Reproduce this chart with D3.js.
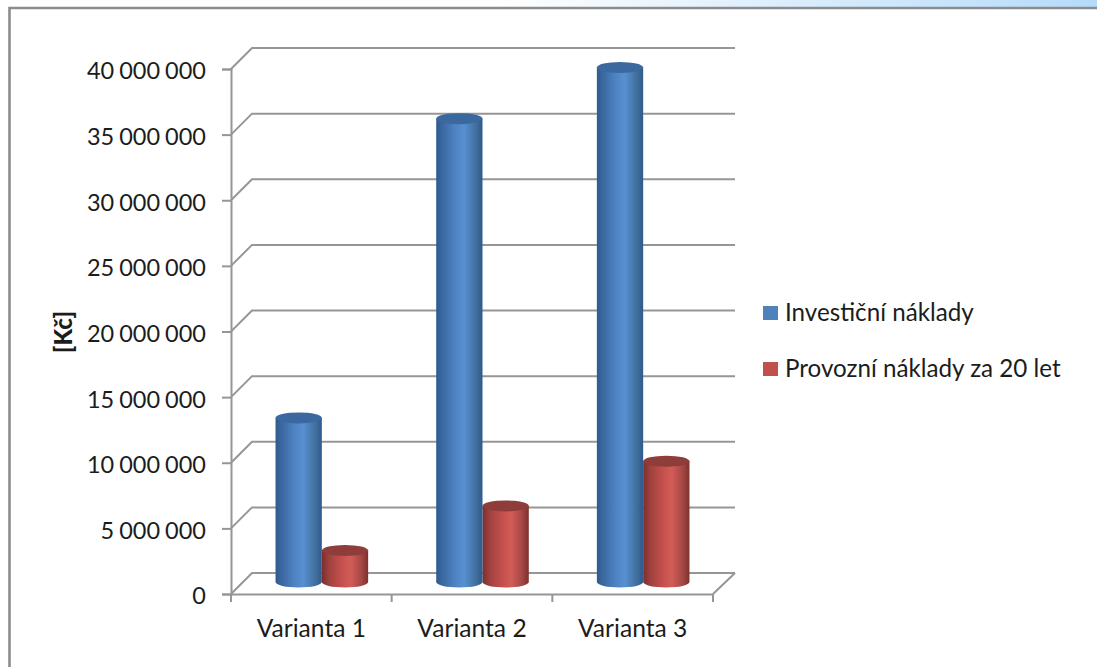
<!DOCTYPE html>
<html>
<head>
<meta charset="utf-8">
<script src="https://cdn.jsdelivr.net/npm/d3@7"></script>
<style>
html,body{margin:0;padding:0;background:#fff;overflow:hidden}
svg{display:block}
text{font-family:Lato,"Open Sans",sans-serif;fill:#1c1c1c}
</style>
</head>
<body>
<svg id="chart" width="1097" height="667"></svg>
<script>
// Costs per variant, in CZK
const categories = ["Varianta 1", "Varianta 2", "Varianta 3"];
const seriesNames = ["Investiční náklady", "Provozní náklady za 20 let"];
const investicni = [12500000, 35300000, 39200000];
const provozni = [2400000, 5800000, 9200000];
const yTicks = [0, 5000000, 10000000, 15000000, 20000000, 25000000, 30000000, 35000000, 40000000];
const seriesColors = ["#4f81bd", "#c0504d"];
const capColors = ["#3b689f", "#8f3d3a"];
const axisTitle = "[Kč]";

const svg = d3.select("#chart");
const W = 1097, H = 667;
const grey = "#969696";

// Chart geometry: front plane plus the oblique shift to the back wall
const x0 = 231, x1 = 713, yBase = 594, yTop = 69;
const depthX = 21, depthY = 21;
const y = d3.scaleLinear().domain([0, 40000000]).range([yBase, yTop]);
const x = d3.scaleBand().domain(categories).range([x0, x1]);
const barW = 46.3, rx = barW / 2, ry = 5.5;
const floorShiftX = 10.5, floorShiftY = 12;

const defs = svg.append("defs");

// Strip above the frame
const strip = defs.append("linearGradient").attr("id", "strip");
strip.append("stop").attr("offset", 0.45).attr("stop-color", "#ffffff");
strip.append("stop").attr("offset", 1).attr("stop-color", "#b5dbfa");
svg.append("rect").attr("width", W).attr("height", 8).attr("fill", "url(#strip)");

// Frame lines on the top and left
svg.append("path")
  .attr("d", `M9.5,${H} V8 H${W}`)
  .attr("fill", "none").attr("stroke", "#8c8c8c").attr("stroke-width", 2.6);

// Horizontal shading that gives the bars their round look
const stops = [
  [["0", "#2f5a8e"], ["0.16", "#3c6ba4"], ["0.42", "#4f84c4"], ["0.6", "#5790d2"], ["0.85", "#42719f"], ["1", "#2f5a8c"]],
  [["0", "#7a2f2d"], ["0.16", "#a0423f"], ["0.42", "#c44f4c"], ["0.62", "#d25c58"], ["0.85", "#a64744"], ["1", "#7e302e"]]
];
stops.forEach((list, i) => {
  const g = defs.append("linearGradient").attr("id", "cyl" + i);
  list.forEach(s => g.append("stop").attr("offset", s[0]).attr("stop-color", s[1]));
});

// Back wall gridlines with their diagonal run to the value axis
const grid = svg.append("g").attr("fill", "none").attr("stroke", grey).attr("stroke-width", 2);
grid.selectAll("path").data(yTicks).join("path")
  .attr("d", d => `M${x0},${y(d)} L${x0 + depthX},${y(d) - depthY} H${x1 + depthX + 1}`);

// Floor outline on the right
grid.append("path").attr("d", `M${x1},${yBase} L${x1 + depthX + 1},${yBase - depthY}`);

// Value axis
const yAxis = d3.axisLeft(y)
  .tickValues(yTicks)
  .tickSize(9)
  .tickPadding(16)
  .tickFormat(d => d3.format(",")(d).replace(/,/g, " "));
const yg = svg.append("g").attr("transform", `translate(${x0},0)`).call(yAxis);
yg.selectAll("text")
  .attr("dy", "0.42em")
  .style("font-size", "23.5px")
  .style("word-spacing", "-1px")
  .style("fill", "#1c1c1c");

// Category axis: labels centred in bands, ticks drawn at band edges
const xAxis = d3.axisBottom(x).tickSize(0).tickPadding(26);
const xg = svg.append("g").attr("transform", `translate(0,${yBase})`).call(xAxis);
xg.selectAll("text").style("font-size", "24.6px").style("fill", "#1c1c1c");
xg.selectAll(".tick line").remove();
xg.selectAll(".edge").data(d3.range(categories.length + 1)).join("line")
  .attr("class", "edge")
  .attr("x1", i => x0 + i * x.step()).attr("x2", i => x0 + i * x.step())
  .attr("y1", 0).attr("y2", 8);
svg.selectAll(".domain, .tick line, .edge")
  .attr("stroke", grey).attr("stroke-width", 2);

// Cylinders, each series placed either side of the category centre
function cylinder(g, cx, value, s) {
  const top = y(value) - floorShiftY, bottom = y(0) - floorShiftY;
  const l = cx - rx, r = cx + rx;
  g.append("path")
    .attr("d", `M${l},${top} V${bottom} A${rx},${ry} 0 0 0 ${r},${bottom} V${top} Z`)
    .attr("fill", `url(#cyl${s})`);
  g.append("ellipse")
    .attr("cx", cx).attr("cy", top).attr("rx", rx).attr("ry", ry)
    .attr("fill", capColors[s]);
}
const bars = svg.append("g");
categories.forEach((c, i) => {
  const centre = x(c) + x.bandwidth() / 2 + floorShiftX;
  cylinder(bars, centre + rx, provozni[i], 1);
  cylinder(bars, centre - rx, investicni[i], 0);
});

// Rotated axis title
svg.append("text")
  .attr("transform", "translate(72,332) rotate(-90)")
  .attr("text-anchor", "middle")
  .style("font-size", "24px").style("font-weight", "900")
  .text(axisTitle);

// Legend
const legend = svg.append("g");
seriesNames.forEach((n, i) => {
  const ly = 313 + i * 56;
  legend.append("rect")
    .attr("x", 763).attr("y", ly - 7).attr("width", 15).attr("height", 14)
    .attr("fill", seriesColors[i]);
  legend.append("text")
    .attr("x", 785).attr("y", ly + 8)
    .style("font-size", "24.2px")
    .text(n);
});
</script>
</body>
</html>
